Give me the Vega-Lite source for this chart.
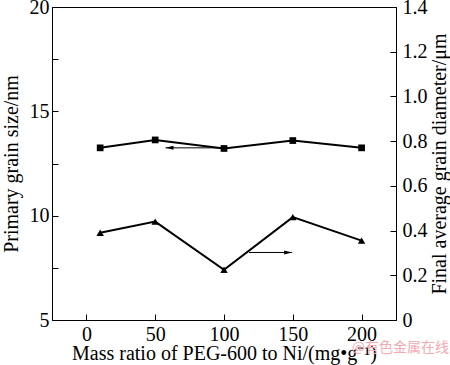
{
  "$schema": "https://vega.github.io/schema/vega-lite/v6.json",
  "width": 344,
  "height": 313,
  "autosize": {"type": "none"},
  "padding": {"left": 52, "top": 7, "right": 54, "bottom": 45},
  "background": "white",
  "title": {"text": "@有色金属在线", "orient": "bottom", "anchor": "end", "color": "#f2aab2", "fontSize": 14, "font": "Noto Sans CJK SC", "fontWeight": "normal", "offset": -22, "frame": "bounds"},
  "config": {
    "view": {"stroke": "black", "strokeWidth": 1},
    "axis": {
      "labelFont": "Liberation Serif", "labelFontSize": 20, "labelColor": "black",
      "titleFont": "Liberation Serif", "titleFontSize": 20, "titleFontWeight": "normal", "titleColor": "black",
      "domainColor": "black", "tickColor": "black", "grid": false, "tickSize": -6
    }
  },
  "datasets": {
    "primary": [
      {"ratio": 10, "size": 13.25},
      {"ratio": 50, "size": 13.63},
      {"ratio": 100, "size": 13.22},
      {"ratio": 150, "size": 13.6},
      {"ratio": 200, "size": 13.25}
    ],
    "final": [
      {"ratio": 10, "diameter": 0.39},
      {"ratio": 50, "diameter": 0.44},
      {"ratio": 100, "diameter": 0.225},
      {"ratio": 150, "diameter": 0.46},
      {"ratio": 200, "diameter": 0.355}
    ],
    "arrowLeft": [{"from": 98.5, "to": 57.5, "size": 13.25}],
    "arrowRight": [{"from": 118.2, "to": 149.5, "diameter": 0.302}]
  },
  "layer": [
    {
      "layer": [
        {
          "data": {"name": "primary"},
          "mark": {"type": "line", "color": "black", "strokeWidth": 2, "point": {"shape": "square", "filled": true, "size": 45, "color": "black"}},
          "encoding": {
            "x": {"field": "ratio", "type": "quantitative", "scale": {"domain": [-25, 225], "nice": false},
                  "axis": {"title": "Mass ratio of PEG-600 to Ni/(mg•g⁻¹)", "values": [0, 50, 100, 150, 200], "labelPadding": 10, "titlePadding": -1}},
            "y": {"field": "size", "type": "quantitative", "scale": {"domain": [5, 20], "nice": false, "zero": false},
                  "axis": {"title": "Primary grain size/nm", "values": [5, 7.5, 10, 12.5, 15, 17.5, 20], "labelExpr": "datum.value % 5 === 0 ? format(datum.value, 'd') : ''", "labelPadding": 9, "titlePadding": 8}}
          }
        },
        {
          "data": {"name": "arrowLeft"},
          "mark": {"type": "rule", "color": "black", "strokeWidth": 1},
          "encoding": {
            "x": {"field": "from", "type": "quantitative"},
            "x2": {"field": "to"},
            "y": {"field": "size", "type": "quantitative"}
          }
        },
        {
          "data": {"name": "arrowLeft"},
          "mark": {"type": "point", "shape": "M0,0L4,-1L4,1Z", "filled": true, "color": "black", "size": 16, "opacity": 1},
          "encoding": {
            "x": {"field": "to", "type": "quantitative"},
            "y": {"field": "size", "type": "quantitative"}
          }
        }
      ]
    },
    {
      "layer": [
        {
          "data": {"name": "final"},
          "mark": {"type": "line", "color": "black", "strokeWidth": 2, "point": {"shape": "triangle-up", "filled": true, "size": 55, "color": "black"}},
          "encoding": {
            "x": {"field": "ratio", "type": "quantitative"},
            "y": {"field": "diameter", "type": "quantitative", "scale": {"domain": [0, 1.4], "nice": false},
                  "axis": {"orient": "right", "title": "Final average grain diameter/μm", "titleAngle": 270, "titleBaseline": "top", "values": [0, 0.2, 0.4, 0.6, 0.8, 1.0, 1.2, 1.4], "labelExpr": "datum.value === 0 ? '0' : format(datum.value, '.1f')", "labelPadding": 12, "titlePadding": 2}}
          }
        },
        {
          "data": {"name": "arrowRight"},
          "mark": {"type": "rule", "color": "black", "strokeWidth": 1},
          "encoding": {
            "x": {"field": "from", "type": "quantitative"},
            "x2": {"field": "to"},
            "y": {"field": "diameter", "type": "quantitative"}
          }
        },
        {
          "data": {"name": "arrowRight"},
          "mark": {"type": "point", "shape": "M0,0L-4,-1L-4,1Z", "filled": true, "color": "black", "size": 16, "opacity": 1},
          "encoding": {
            "x": {"field": "to", "type": "quantitative"},
            "y": {"field": "diameter", "type": "quantitative"}
          }
        }
      ]
    }
  ],
  "resolve": {"scale": {"y": "independent"}}
}
